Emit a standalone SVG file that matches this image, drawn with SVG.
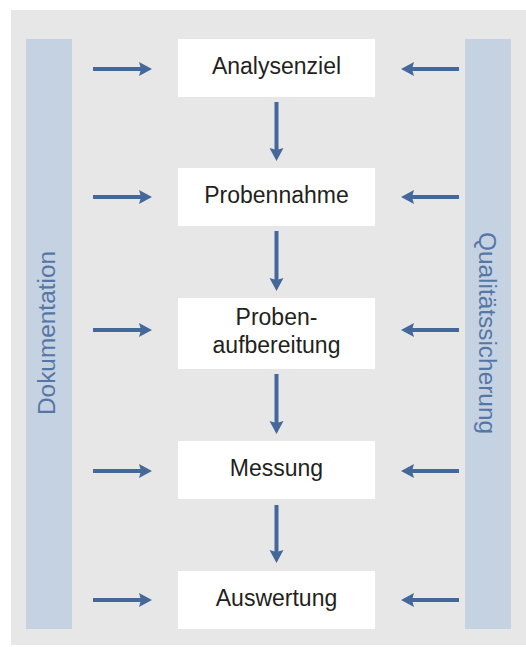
<svg xmlns="http://www.w3.org/2000/svg" width="526" height="647" viewBox="0 0 526 647">
<style>
.bg{fill:#e7e7e7}
.bar{fill:#c5d2e1}
.box{fill:#ffffff}
.lbl{font-family:"Liberation Sans",Arial,sans-serif;font-size:23px;fill:#231f20;text-anchor:middle}
.side{font-family:"Liberation Sans",Arial,sans-serif;font-size:24.4px;fill:#5577a7;text-anchor:middle}
.arr{stroke:#45689a;stroke-width:4;fill:none}
</style>
<defs>
<marker id="ah" markerUnits="userSpaceOnUse" markerWidth="14" markerHeight="15" refX="2" refY="7" orient="auto" viewBox="0 0 14 14">
<path d="M0,0 L13,7 L0,14 L2,7 z" fill="#45689a"/>
</marker>
</defs>
<rect class="bg" x="11" y="10" width="515" height="635"/>
<g id="dokumentation">
<rect class="bar" x="26" y="39" width="46" height="590"/>
<text class="side" transform="translate(55,333) rotate(-90)">Dokumentation</text>
</g>
<g id="qualitaetssicherung">
<rect class="bar" x="465" y="39" width="46" height="590"/>
<text class="side" transform="translate(479,333) rotate(90)">Qualitätssicherung</text>
</g>
<g id="analysenziel">
<rect class="box" x="178" y="39" width="197" height="58"/>
<text class="lbl" x="276.5" y="74">Analysenziel</text>
</g>
<g id="probennahme">
<rect class="box" x="178" y="168" width="197" height="58"/>
<text class="lbl" x="276.5" y="203">Probennahme</text>
</g>
<g id="probenaufbereitung">
<rect class="box" x="178" y="298" width="197" height="71"/>
<text class="lbl" x="276.5" y="325">Proben-</text>
<text class="lbl" x="276.5" y="353">aufbereitung</text>
</g>
<g id="messung">
<rect class="box" x="178" y="441" width="197" height="58"/>
<text class="lbl" x="276.5" y="476">Messung</text>
</g>
<g id="auswertung">
<rect class="box" x="178" y="571" width="197" height="58"/>
<text class="lbl" x="276.5" y="606">Auswertung</text>
</g>
<g id="connectors">
<line class="arr" x1="276.5" y1="102" x2="276.5" y2="150" marker-end="url(#ah)"/>
<line class="arr" x1="276.5" y1="231" x2="276.5" y2="280" marker-end="url(#ah)"/>
<line class="arr" x1="276.5" y1="374" x2="276.5" y2="423" marker-end="url(#ah)"/>
<line class="arr" x1="276.5" y1="505" x2="276.5" y2="552" marker-end="url(#ah)"/>
<line class="arr" x1="93" y1="69" x2="141" y2="69" marker-end="url(#ah)"/>
<line class="arr" x1="93" y1="197" x2="141" y2="197" marker-end="url(#ah)"/>
<line class="arr" x1="93" y1="330" x2="141" y2="330" marker-end="url(#ah)"/>
<line class="arr" x1="93" y1="471" x2="141" y2="471" marker-end="url(#ah)"/>
<line class="arr" x1="93" y1="600" x2="141" y2="600" marker-end="url(#ah)"/>
<line class="arr" x1="459" y1="69" x2="412" y2="69" marker-end="url(#ah)"/>
<line class="arr" x1="459" y1="197" x2="412" y2="197" marker-end="url(#ah)"/>
<line class="arr" x1="459" y1="330" x2="412" y2="330" marker-end="url(#ah)"/>
<line class="arr" x1="459" y1="471" x2="412" y2="471" marker-end="url(#ah)"/>
<line class="arr" x1="459" y1="600" x2="412" y2="600" marker-end="url(#ah)"/>
</g>
</svg>
